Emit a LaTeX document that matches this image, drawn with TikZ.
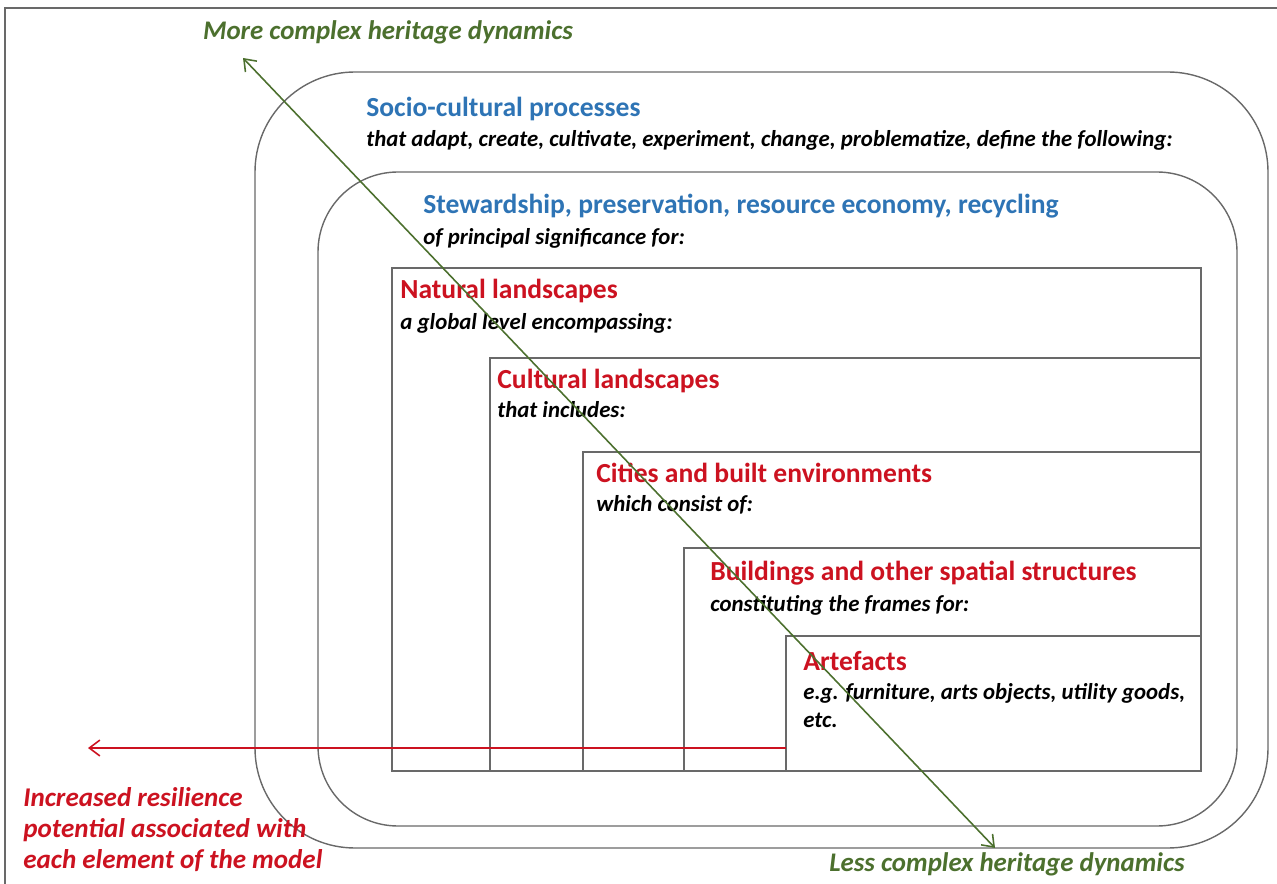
\documentclass[tikz,border=0pt]{standalone}
\usepackage{fontspec}
\setmainfont{Carlito}
\usepackage{tikz}
\usetikzlibrary{arrows.meta,positioning,calc}

\definecolor{heading}{RGB}{46,116,181}
\definecolor{level}{RGB}{204,18,32}
\definecolor{dyn}{RGB}{76,112,46}
\definecolor{frame}{RGB}{105,105,105}

\begin{document}
\begin{tikzpicture}[
    x=0.02cm, y=-0.02cm,
    % --- STYLES ---
    layer/.style={draw=frame, line width=0.8pt},
    title/.style={anchor=base west, inner sep=0pt, font=\fontsize{15.7}{18}\selectfont\bfseries},
    blue title/.style={title, text=heading},
    red title/.style={title, text=level},
    note/.style={anchor=base west, inner sep=0pt, font=\fontsize{13}{16}\selectfont\bfseries\itshape},
    dyntext/.style={anchor=base, inner sep=0pt, text=dyn, font=\fontsize{15.3}{18}\selectfont\bfseries\itshape},
    restext/.style={anchor=base west, inner sep=0pt, text=level, font=\fontsize{15.4}{18}\selectfont\bfseries\itshape},
    gradient/.style={<->, >={Straight Barb[length=6pt,width=9pt]}, draw=dyn, line width=0.9pt},
    resilience/.style={->, >={Straight Barb[length=6pt,width=9pt]}, draw=level, line width=0.9pt}
]
\useasboundingbox (0,0) rectangle (1277,884);

% ===== 1. FRAME & ROUNDED LAYERS =====
\draw[frame, line width=1pt] (5,884) -- (5,8) -- (1277,8);

\draw[layer, rounded corners=2cm] (255,72) rectangle (1268,848);
\draw[layer, rounded corners=1.6cm] (318,172) rectangle (1237,826);

% ===== 2. NESTED BOXES =====
\draw[layer] (392,268) rectangle (1201,771);
\draw[layer] (490,358) rectangle (1201,771);
\draw[layer] (583,452) rectangle (1201,771);
\draw[layer] (684,548) rectangle (1201,771);
\draw[layer] (786,636) rectangle (1201,771);

% ===== 3. TEXTS =====
\node[blue title] (soc) at (366,117) {Socio-cultural processes};
\node[note] (socnote) at (366,147) {that adapt, create, cultivate, experiment, change, problematize, define the following:};

\node[blue title] (stew) at (423,214) {Stewardship, preservation, resource economy, recycling};
\node[note] (stewnote) at (423,245) {of principal significance for:};

\node[red title] (nat) at (400,299) {Natural landscapes};
\node[note] (natnote) at (400,330) {a global level encompassing:};

\node[red title] (cult) at (497,389) {Cultural landscapes};
\node[note] (cultnote) at (497,418) {that includes:};

\node[red title] (city) at (596,483) {Cities and built environments};
\node[note] (citynote) at (596,512) {which consist of:};

\node[red title] (bldg) at (710,581) {Buildings and other spatial structures};
\node[note] (bldgnote) at (710,611) {constituting the frames for:};

\node[red title] (art) at (803,670) {Artefacts};
\node[note] (artnote) at (803,699) {e.g. furniture, arts objects, utility goods,};
\node[note] (artnote2) at (803,727) {etc.};

\node[dyntext] (more) at (388,40) {More complex heritage dynamics};
\node[dyntext] (less) at (1007,871) {Less complex heritage dynamics};

\node[restext] (res1) at (23,806) {Increased resilience};
\node[restext] (res2) at (23,837) {potential associated with};
\node[restext] (res3) at (23,868) {each element of the model};

% ===== 4. ARROWS =====
\coordinate (hi) at (243,58);
\coordinate (lo) at (995,848);
\draw[gradient] (hi) -- (lo);

\coordinate (resstart) at (786,748);
\coordinate (resend) at (88,748);
\draw[resilience] (resstart) -- (resend);

\end{tikzpicture}
\end{document}
